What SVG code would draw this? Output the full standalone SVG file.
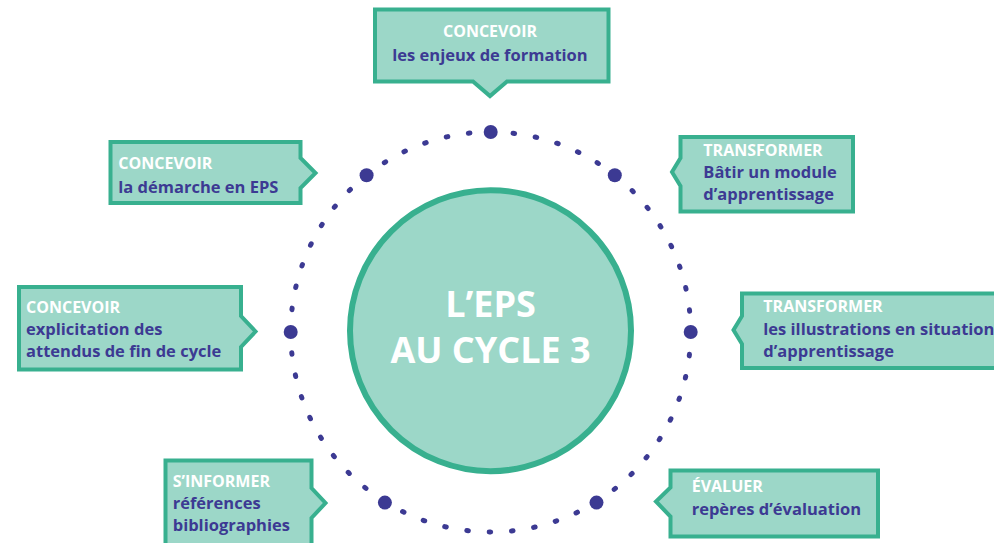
<svg xmlns="http://www.w3.org/2000/svg" width="994" height="543" viewBox="0 0 994 543">
<style>
.box{fill:#9cd7c8;stroke:#38b08f;stroke-width:4;stroke-linejoin:miter}
.t{font-family:"Open Sans","Noto Sans",sans-serif;font-weight:700;fill:#ffffff;font-size:16px}
.b{font-family:"Open Sans","Noto Sans",sans-serif;font-weight:700;fill:#3c3a93;font-size:16.5px}
.dot{fill:#3c3a93}
.c{font-family:"Open Sans","Noto Sans",sans-serif;font-weight:700;fill:#ffffff;font-size:36px;text-anchor:middle}
</style>
<rect width="994" height="543" fill="#ffffff"/>
<g id="connectors">
<circle cx="490.7" cy="332" r="200" fill="none" stroke="#3c3a93" stroke-width="5" stroke-linecap="round" pathLength="56" stroke-dasharray="0.07 0.93"/>
<circle class="dot" cx="490.7" cy="132" r="7"/>
<circle class="dot" cx="614.8" cy="175.2" r="7"/>
<circle class="dot" cx="690.7" cy="332" r="7"/>
<circle class="dot" cx="596.5" cy="502.6" r="7"/>
<circle class="dot" cx="384.9" cy="502.6" r="7"/>
<circle class="dot" cx="290.7" cy="332" r="7"/>
<circle class="dot" cx="366.6" cy="175.2" r="7"/>
</g>
<g id="center">
<circle cx="490.5" cy="330.7" r="140.5" fill="#9cd7c8" stroke="#38b08f" stroke-width="6"/>
<text class="c" x="490.5" y="316.7">L’EPS</text>
<text class="c" x="490.5" y="363.3">AU CYCLE 3</text>
</g>
<g id="top">
<path class="box" d="M375,9.5 H608.5 V81.5 H507 L490,96 L473,81.5 H375 Z"/>
<text class="t" x="490" y="37.3" text-anchor="middle">CONCEVOIR</text>
<text class="b" x="490" y="61" text-anchor="middle">les enjeux de formation</text>
</g>
<g id="upper-left">
<path class="box" d="M110.5,142 H300.5 V158 L315.5,173 L300.5,188 V203 H110.5 Z"/>
<text class="t" x="118.3" y="169.3">CONCEVOIR</text>
<text class="b" x="118.3" y="193.3">la démarche en EPS</text>
</g>
<g id="upper-right">
<path class="box" d="M680.5,137 H853 V211.5 H680.5 V186 L672,172 L680.5,158 Z"/>
<text class="t" x="703.3" y="155.5">TRANSFORMER</text>
<text class="b" x="703.3" y="177.5">Bâtir un module</text>
<text class="b" x="703.3" y="199.5">d’apprentissage</text>
</g>
<g id="mid-left">
<path class="box" d="M19,287 H241 V316 L255.5,331.5 L241,347 V369.5 H19 Z"/>
<text class="t" x="26" y="313.3">CONCEVOIR</text>
<text class="b" x="26" y="335">explicitation des</text>
<text class="b" x="26" y="356.7">attendus de fin de cycle</text>
</g>
<g id="mid-right">
<path class="box" d="M742,293.5 H1000 V368 H742 V344 L733.5,330 L742,316 Z"/>
<text class="t" x="763.3" y="312.3">TRANSFORMER</text>
<text class="b" x="763.3" y="335">les illustrations en situation</text>
<text class="b" x="763.3" y="356.7">d’apprentissage</text>
</g>
<g id="lower-left">
<path class="box" d="M165.5,460.5 H311.5 V488 L325.5,503 L311.5,518 V550 H165.5 Z"/>
<text class="t" x="172.7" y="486.7">S’INFORMER</text>
<text class="b" x="172.7" y="509.3">références</text>
<text class="b" x="172.7" y="530.7">bibliographies</text>
</g>
<g id="lower-right">
<path class="box" d="M670.5,470.5 H878 V536.5 H670.5 V516.5 L656,501.5 L670.5,487.5 Z"/>
<text class="t" x="691.7" y="491.7">ÉVALUER</text>
<text class="b" x="691.7" y="515">repères d’évaluation</text>
</g>
</svg>
